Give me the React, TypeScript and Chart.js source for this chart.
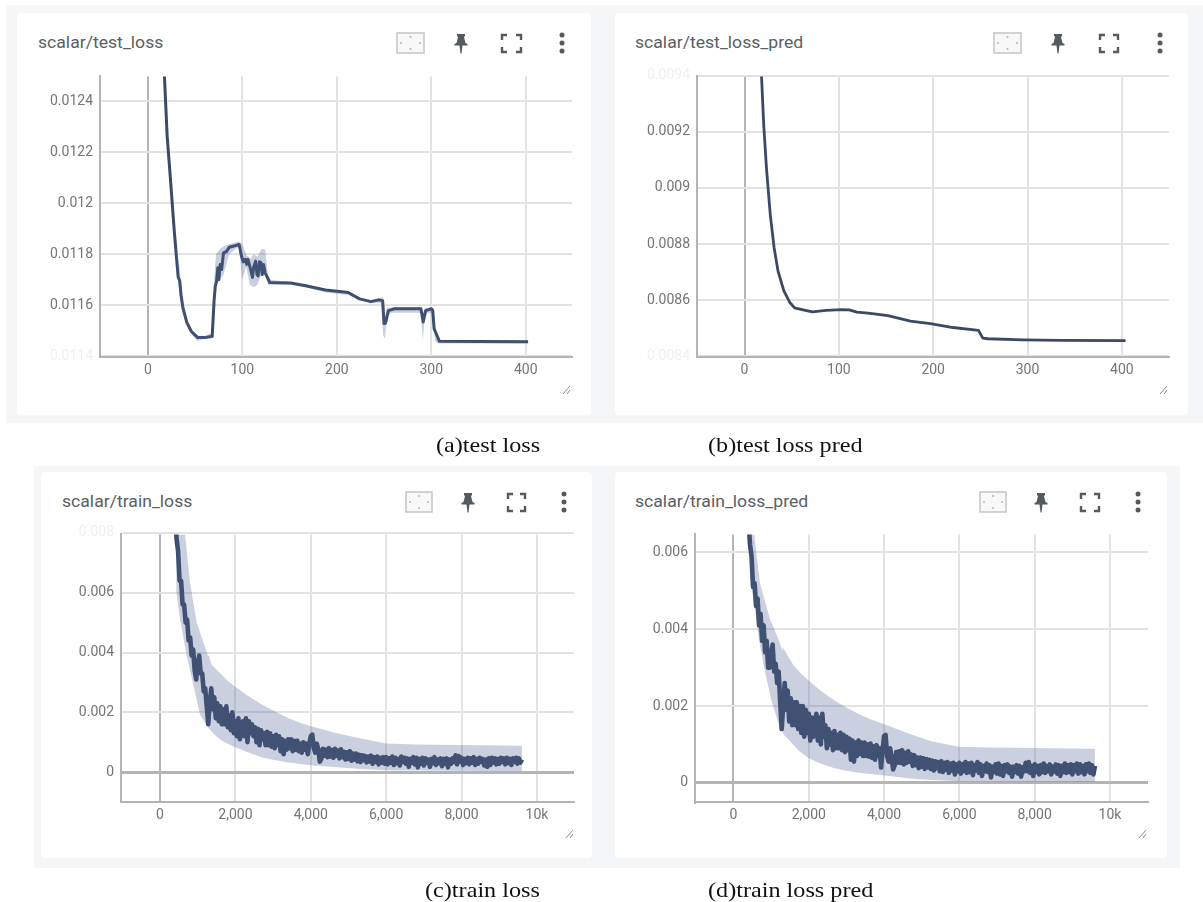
import React, { useEffect, useRef } from "react";
import { Chart, registerables } from "chart.js";

Chart.register(...registerables);

const LINE_COLOR = "#3a4a66";
const BAND_COLOR = "rgba(80,100,150,0.3)";
const GRID = "#e2e2e2";
const AXIS = "#b4b4b4";
const TICK_TEXT = "#757575";
const FAINT = "#f0f0f0";

// (a) test loss
const testLossSteps = [15, 17.4, 20.3, 23.5, 27.6, 30.8, 32, 33.6, 35, 36.9, 41, 45.8, 52.7, 60, 68, 70, 71.3, 72.5, 74, 75, 76.5, 78, 80, 83, 86, 92, 96.5, 99, 101, 103, 104.6, 106, 108, 110.7, 112, 114, 115.5, 116.7, 118, 119.6, 121, 122.5, 124, 129, 151, 167, 188, 212, 224, 236, 244.4, 248.5, 250, 251.5, 254.6, 261, 289, 291.4, 294, 300, 301.5, 303, 305, 308.5, 350, 402.5];
const testLossValues = [0.0129, 0.0125, 0.012264, 0.012109, 0.011902, 0.01176, 0.01171, 0.011696, 0.01164, 0.011592, 0.011534, 0.011498, 0.011473, 0.011473, 0.011478, 0.011618, 0.011676, 0.01169, 0.011747, 0.0117, 0.01176, 0.01174, 0.011805, 0.01181, 0.011827, 0.011833, 0.011838, 0.011793, 0.01177, 0.01178, 0.01176, 0.01178, 0.01175, 0.011709, 0.01175, 0.011773, 0.01172, 0.011715, 0.01177, 0.011767, 0.01172, 0.01176, 0.011728, 0.011689, 0.011687, 0.011676, 0.01166, 0.01165, 0.011625, 0.011614, 0.011621, 0.011618, 0.011528, 0.01153, 0.011579, 0.011586, 0.011586, 0.011534, 0.011579, 0.011586, 0.01158, 0.011508, 0.01149, 0.011459, 0.011458, 0.011457];
const testBandSteps = [17, 24, 30, 33, 36, 40, 45, 52, 60, 68, 70, 72, 76, 80, 86, 96, 100, 104, 108, 112, 116, 120, 124, 127, 130, 151, 167, 188, 212, 224, 236, 247, 249, 251, 253, 257, 289, 291, 293, 296, 301, 304, 307, 310, 400];
const testBandUpper = [0.0125, 0.01212, 0.01182, 0.01176, 0.01165, 0.01156, 0.01151, 0.01148, 0.01148, 0.01149, 0.0117, 0.0118, 0.01182, 0.01183, 0.01184, 0.01185, 0.01184, 0.0118, 0.01178, 0.0118, 0.01179, 0.01182, 0.01182, 0.01172, 0.0117, 0.01169, 0.01168, 0.01166, 0.01165, 0.01163, 0.01162, 0.01163, 0.01163, 0.01155, 0.01159, 0.01159, 0.01159, 0.01156, 0.01159, 0.01159, 0.01159, 0.01152, 0.01147, 0.01146, 0.01146];
const testBandLower = [0.01249, 0.0121, 0.01178, 0.01166, 0.01158, 0.01153, 0.01149, 0.01146, 0.01147, 0.01147, 0.0116, 0.01168, 0.0117, 0.01172, 0.0118, 0.01183, 0.0117, 0.01175, 0.01168, 0.01167, 0.01168, 0.01172, 0.01172, 0.01168, 0.01168, 0.01168, 0.01167, 0.01165, 0.01164, 0.01162, 0.01161, 0.01161, 0.01148, 0.01147, 0.01155, 0.01157, 0.01157, 0.01146, 0.01155, 0.01157, 0.01157, 0.01146, 0.01145, 0.01145, 0.01145];
const testLossTicks = [0.0114, 0.0116, 0.0118, 0.012, 0.0122, 0.0124];

// (b) test loss pred
const testPredSteps = [15, 18, 20.4, 23.3, 27.3, 31.4, 35.5, 41.6, 47.8, 53, 62, 72, 86.5, 103, 111, 119, 131, 152, 176, 197, 221, 248, 252.6, 258, 295, 335.5, 404];
const testPredValues = [0.0097, 0.009398, 0.00922, 0.009068, 0.008904, 0.008786, 0.008704, 0.008634, 0.008593, 0.008573, 0.008566, 0.008559, 0.008564, 0.008567, 0.008566, 0.008558, 0.008554, 0.008545, 0.008526, 0.008517, 0.008503, 0.008493, 0.008465, 0.008463, 0.008459, 0.008457, 0.008456];
const testPredTicks = [0.0084, 0.0086, 0.0088, 0.009, 0.0092, 0.0094];

const testXTicks = [0, 100, 200, 300, 400];
const trainXTicks = [0, 2000, 4000, 6000, 8000, 10000];

// shared step axis of the two train runs (one row per 800 steps)
const trainSteps = [
  400, 440, 480, 520, 560, 600, 640, 680, 720, 760, 800, 840, 880, 920, 960, 1000, 1040, 1080, 1120, 1160,
  1200, 1240, 1280, 1320, 1360, 1400, 1440, 1480, 1520, 1560, 1600, 1640, 1680, 1720, 1760, 1800, 1840, 1880, 1920, 1960,
  2000, 2040, 2080, 2120, 2160, 2200, 2240, 2280, 2320, 2360, 2400, 2440, 2480, 2520, 2560, 2600, 2640, 2680, 2720, 2760,
  2800, 2840, 2880, 2920, 2960, 3000, 3040, 3080, 3120, 3160, 3200, 3240, 3280, 3320, 3360, 3400, 3440, 3480, 3520, 3560,
  3600, 3640, 3680, 3720, 3760, 3800, 3840, 3880, 3920, 3960, 4000, 4040, 4080, 4120, 4160, 4200, 4240, 4280, 4320, 4360,
  4400, 4440, 4480, 4520, 4560, 4600, 4640, 4680, 4720, 4760, 4800, 4840, 4880, 4920, 4960, 5000, 5040, 5080, 5120, 5160,
  5200, 5240, 5280, 5320, 5360, 5400, 5440, 5480, 5520, 5560, 5600, 5640, 5680, 5720, 5760, 5800, 5840, 5880, 5920, 5960,
  6000, 6040, 6080, 6120, 6160, 6200, 6240, 6280, 6320, 6360, 6400, 6440, 6480, 6520, 6560, 6600, 6640, 6680, 6720, 6760,
  6800, 6840, 6880, 6920, 6960, 7000, 7040, 7080, 7120, 7160, 7200, 7240, 7280, 7320, 7360, 7400, 7440, 7480, 7520, 7560,
  7600, 7640, 7680, 7720, 7760, 7800, 7840, 7880, 7920, 7960, 8000, 8040, 8080, 8120, 8160, 8200, 8240, 8280, 8320, 8360,
  8400, 8440, 8480, 8520, 8560, 8600, 8640, 8680, 8720, 8760, 8800, 8840, 8880, 8920, 8960, 9000, 9040, 9080, 9120, 9160,
  9200, 9240, 9280, 9320, 9360, 9400, 9440, 9480, 9520, 9560, 9600,
];

// (c) train loss
const trainLossValues = [
  .0089, .0078, .0074, .0064, .0064, .0056, .0056, .005, .0051, .0044, .0045, .0039, .0041, .0034, .0031, .0036, .0039, .0033, .0033, .0027,
  .0028, .0022, .0016, .0023, .0028, .0021, .0025, .0018, .0023, .0017, .0022, .0016, .0021, .0016, .0022, .0015, .0019, .0014, .002, .0013,
  .0017, .0012, .0018, .0011, .0015, .0017, .0012, .0018, .001, .0017, .0013, .0016, .0012, .0015, .001, .00145, .0009, .0014, .0011, .0013,
  .0009, .00135, .0009, .0013, .00085, .0012, .0008, .00125, .0009, .0012, .0007, .0011, .0006, .00105, .00075, .0011, .0008, .0011, .0007, .00105,
  .00075, .00105, .0007, .00095, .00065, .001, .00075, .00095, .0006, .00095, .0012, .00125, .0008, .00065, .00095, .00075, .00035, .00045, .00078, .00055,
  .00075, .0005, .0008, .00052, .00074, .00048, .00078, .00055, .00072, .00046, .00076, .0005, .00068, .00042, .00066, .00044, .0007, .00038, .00062, .00042,
  .00062, .00036, .00058, .00034, .00056, .0004, .00054, .00032, .00052, .00036, .00055, .00028, .0005, .00034, .00052, .00026, .00048, .00032, .0005, .00028,
  .0005, .00026, .00046, .00032, .00052, .00024, .00048, .0003, .00044, .00022, .00052, .00034, .00048, .00028, .00046, .00018, .00044, .00032, .0005, .00026,
  .00048, .00016, .00044, .00028, .00048, .00022, .00046, .00032, .00042, .00018, .00044, .0003, .0005, .00024, .00042, .0003, .00046, .0002, .00044, .00028,
  .00046, .00016, .00042, .00028, .00046, .00034, .00056, .00026, .00054, .00036, .00048, .00024, .00044, .0003, .00048, .00026, .00046, .00032, .0005, .00024,
  .00044, .00028, .00048, .00034, .00044, .00022, .00042, .00018, .00046, .00024, .00048, .00032, .00046, .00026, .00044, .00028, .00048, .00034, .00046, .00026,
  .00048, .0003, .00044, .00024, .00046, .00034, .00048, .00028, .00046, .00032, .00042,
];
const trainLossUpperSteps = [430, 663, 796, 973, 1270, 1300, 1370, 1636, 1800, 1989, 2300, 2697, 3000, 3400, 3700, 3979, 4300, 4642, 5300, 6000, 6800, 9600];
const trainLossUpper = [0.0095, 0.00798, 0.00633, 0.005, 0.0039, 0.0039, 0.00359, 0.00326, 0.00305, 0.00286, 0.00258, 0.00226, 0.00206, 0.00181, 0.00166, 0.00154, 0.00143, 0.00132, 0.00113, 0.00096, 0.00092, 0.00088];
const trainLossLowerSteps = [300, 327, 353, 530, 708, 884, 1061, 1280, 1450, 1636, 1989, 2300, 2697, 3000, 3400, 4000, 4642, 5300, 6000, 9600];
const trainLossLower = [0.0095, 0.00798, 0.00677, 0.00512, 0.0039, 0.00292, 0.00193, 0.00148, 0.00125, 0.00105, 0.00083, 0.00068, 0.0005, 0.00041, 0.00032, 0.00023, 0.00017, 0.0001, 0.00006, 0.00003];
const trainLossTicks = [-0.001, 0, 0.002, 0.004, 0.006, 0.008];

// (d) train loss pred
const trainPredValues = [
  .0068, .0062, .0059, .0051, .0052, .0046, .0048, .0041, .0044, .0037, .0041, .0034, .0037, .003, .003, .0034, .0036, .0029, .0031, .0026,
  .0029, .0021, .0014, .002, .0026, .0019, .0024, .0016, .0022, .0015, .0021, .0015, .0021, .0014, .002, .0013, .002, .0012, .0019, .0013,
  .0018, .0011, .0017, .0012, .0015, .0018, .0011, .0017, .001, .0018, .0012, .0015, .0009, .0014, .001, .0013, .00085, .00135, .0009, .00125,
  .0009, .0013, .00085, .00125, .0008, .0012, .00085, .00115, .0006, .0011, .00055, .00105, .0007, .0011, .00075, .00105, .0007, .00105, .0007, .001,
  .00068, .00102, .00065, .00095, .0006, .00098, .0007, .0009, .0004, .00085, .00122, .00125, .0007, .00055, .0009, .00065, .00035, .00045, .0008, .00052,
  .00082, .00052, .00085, .00048, .00078, .00052, .00082, .00055, .00074, .00044, .00072, .00046, .00066, .00038, .00066, .00042, .00064, .00036, .00062, .0004,
  .0006, .00036, .00058, .00032, .00056, .00038, .00054, .0003, .00056, .00028, .00052, .00034, .00054, .00026, .0005, .00032, .00052, .00022, .00048, .0003,
  .00052, .00024, .00048, .0003, .00054, .00026, .0005, .00028, .00052, .0002, .00046, .00032, .00054, .00026, .00048, .00018, .00044, .0003, .0005, .00028,
  .00046, .00014, .00042, .00028, .00048, .00024, .0005, .00022, .00044, .00018, .00046, .0003, .00048, .00026, .00042, .00016, .00042, .00028, .00046, .00024,
  .00044, .00016, .0004, .0003, .00052, .0003, .00054, .00026, .00044, .00018, .00048, .00028, .00044, .00022, .00046, .00028, .0005, .00026, .00044, .0003,
  .00048, .00022, .00042, .0003, .00048, .00024, .00046, .00018, .00044, .00028, .0005, .00026, .00046, .00028, .00048, .00022, .00046, .0003, .0005, .00024,
  .00048, .00028, .00044, .00022, .00048, .0003, .0005, .00026, .00046, .00022, .00044,
];
const trainPredUpperSteps = [430, 545, 704, 970, 1150, 1300, 1310, 1589, 1780, 1979, 2300, 2643, 2950, 3272, 3650, 4024, 4688, 5300, 6000, 6800, 9600];
const trainPredUpper = [0.0075, 0.0065, 0.0052, 0.00426, 0.00385, 0.00345, 0.00353, 0.00307, 0.00286, 0.00268, 0.00241, 0.00217, 0.00199, 0.00182, 0.00165, 0.00152, 0.00127, 0.00107, 0.00094, 0.00092, 0.00089];
const trainPredLowerSteps = [330, 360, 438, 571, 704, 837, 1014, 1235, 1350, 1500, 1720, 1979, 2300, 2643, 2950, 3272, 4024, 4688, 5300, 6000, 9600];
const trainPredLower = [0.0075, 0.0064, 0.00538, 0.00451, 0.00358, 0.00289, 0.00212, 0.00142, 0.00124, 0.00109, 0.00085, 0.00065, 0.0005, 0.00039, 0.00032, 0.00027, 0.00019, 0.00011, 0.00007, 0.00004, 0.00003];
const trainPredTicks = [0, 0.002, 0.004, 0.006];

const zip = (xs: number[], ys: number[]) => xs.map((x, i) => ({ x, y: ys[i] }));

type PanelSpec = {
  title: string;
  card: [number, number, number, number];
  plot: [number, number, number, number];
  titleX: number;
  headY: number;
  box: [number, number];
  pinX: number;
  fullX: [number, number];
  dotsX: number;
  gripX: number;
  gripY: number;
  xRange: [number, number];
  yRange: [number, number];
  xTicks: number[];
  yTicks: number[];
  faint: number[];
  line: { x: number; y: number }[];
  upper?: { x: number; y: number }[];
  lower?: { x: number; y: number }[];
  lineWidth: number;
  kFormat: boolean;
};

const panels: PanelSpec[] = [
  {
    title: "scalar/test_loss",
    card: [17, 13, 574, 402],
    plot: [100, 73, 572, 357],
    titleX: 38,
    headY: 43,
    box: [397, 424],
    pinX: 461,
    fullX: [502, 521],
    dotsX: 562,
    gripX: 567,
    gripY: 390,
    xRange: [-50.8, 449],
    yRange: [0.011397, 0.012497],
    xTicks: testXTicks,
    yTicks: testLossTicks,
    faint: [0.0114],
    line: zip(testLossSteps, testLossValues),
    upper: zip(testBandSteps, testBandUpper),
    lower: zip(testBandSteps, testBandLower),
    lineWidth: 3,
    kFormat: false,
  },
  {
    title: "scalar/test_loss_pred",
    card: [615, 13, 573, 402],
    plot: [697, 73, 1169, 357],
    titleX: 635,
    headY: 43,
    box: [994, 1021],
    pinX: 1058,
    fullX: [1100, 1118],
    dotsX: 1160,
    gripX: 1164,
    gripY: 390,
    xRange: [-50.4, 450],
    yRange: [0.008398, 0.009397],
    xTicks: testXTicks,
    yTicks: testPredTicks,
    faint: [0.0084, 0.0094],
    line: zip(testPredSteps, testPredValues),
    lineWidth: 2.8,
    kFormat: false,
  },
  {
    title: "scalar/train_loss",
    card: [41, 472, 551, 386],
    plot: [121, 531, 574, 802],
    titleX: 62,
    headY: 502,
    box: [406, 432],
    pinX: 468,
    fullX: [508, 525],
    dotsX: 564,
    gripX: 570,
    gripY: 834,
    xRange: [-1034, 10981],
    yRange: [-0.001, 0.00795],
    xTicks: trainXTicks,
    yTicks: trainLossTicks,
    faint: [0.008],
    line: zip(trainSteps, trainLossValues),
    upper: zip(trainLossUpperSteps, trainLossUpper),
    lower: zip(trainLossLowerSteps, trainLossLower),
    lineWidth: 4.6,
    kFormat: true,
  },
  {
    title: "scalar/train_loss_pred",
    card: [615, 472, 552, 386],
    plot: [695, 531, 1148, 802],
    titleX: 635,
    headY: 502,
    box: [980, 1006],
    pinX: 1041,
    fullX: [1081, 1099],
    dotsX: 1138,
    gripX: 1143,
    gripY: 834,
    xRange: [-1022, 11009],
    yRange: [-0.0005, 0.00647],
    xTicks: trainXTicks,
    yTicks: trainPredTicks,
    faint: [],
    line: zip(trainSteps, trainPredValues),
    upper: zip(trainPredUpperSteps, trainPredUpper),
    lower: zip(trainPredLowerSteps, trainPredLower),
    lineWidth: 4.6,
    kFormat: true,
  },
];

const captions: { text: string; x: number; y: number }[] = [
  { text: "(a)test loss", x: 436, y: 432 },
  { text: "(b)test loss pred", x: 708, y: 432 },
  { text: "(c)train loss", x: 425, y: 877 },
  { text: "(d)train loss pred", x: 708, y: 877 },
];

const formatX = (v: number, k: boolean) => {
  if (!k) return String(v);
  if (v >= 10000) return v / 1000 + "k";
  return v.toLocaleString("en-US");
};

function PanelChart({ p }: { p: PanelSpec }) {
  const ref = useRef<HTMLCanvasElement>(null);
  const [cl, , cw] = p.card;
  const [pl, pt, pr, pb] = p.plot;
  const spareTop = 12;
  const xAxisH = 30;
  const yAxisW = 60;
  useEffect(() => {
    const near = (a: number, b: number) => Math.abs(a - b) < 1e-9;
    const datasets: any[] = [];
    if (p.upper && p.lower) {
      datasets.push({
        data: p.upper,
        borderWidth: 0,
        borderColor: "transparent",
        pointRadius: 0,
        fill: "+1",
        backgroundColor: BAND_COLOR,
      });
      datasets.push({
        data: p.lower,
        borderWidth: 0,
        borderColor: "transparent",
        pointRadius: 0,
        fill: false,
      });
    }
    datasets.push({
      data: p.line,
      borderColor: LINE_COLOR,
      borderWidth: p.lineWidth,
      pointRadius: 0,
      fill: false,
      tension: 0,
      borderJoinStyle: "round",
    });
    const font = { family: "Roboto", size: 14 };
    const chart = new Chart(ref.current!, {
      type: "line",
      data: { datasets },
      options: {
        animation: false,
        responsive: false,
        parsing: false,
        normalized: true,
        plugins: { legend: { display: false }, tooltip: { enabled: false }, title: { display: false } },
        layout: {
          autoPadding: false,
          padding: { left: pl - cl - yAxisW, top: spareTop, right: cl + cw - pr, bottom: 0 },
        },
        scales: {
          x: {
            type: "linear",
            min: p.xRange[0],
            max: p.xRange[1],
            afterBuildTicks: (s: any) => {
              s.ticks = p.xTicks.map((value) => ({ value }));
            },
            afterFit: (s: any) => {
              s.height = xAxisH;
            },
            ticks: {
              color: TICK_TEXT,
              font,
              padding: 5,
              maxRotation: 0,
              autoSkip: false,
              callback: (v: any) => formatX(Number(v), p.kFormat),
            },
            grid: {
              drawTicks: false,
              color: (c: any) => (c.tick && c.tick.value === 0 ? AXIS : GRID),
              lineWidth: 2,
            },
            border: { color: AXIS, width: 2 },
          },
          y: {
            type: "linear",
            min: p.yRange[0],
            max: p.yRange[1],
            afterBuildTicks: (s: any) => {
              s.ticks = p.yTicks.map((value) => ({ value }));
            },
            afterFit: (s: any) => {
              s.width = yAxisW;
            },
            ticks: {
              font,
              padding: 7,
              autoSkip: false,
              color: (c: any) => (p.faint.some((f) => near(f, c.tick.value)) ? FAINT : TICK_TEXT),
              callback: (v: any) => {
                const n = Number(v);
                return near(n, -0.001) ? "" : String(Number(n.toFixed(4)));
              },
            },
            grid: {
              drawTicks: false,
              color: (c: any) => (c.tick && near(c.tick.value, 0) ? AXIS : GRID),
              lineWidth: (c: any) => (c.tick && near(c.tick.value, 0) ? 3 : 2),
            },
            border: { color: AXIS, width: 2 },
          },
        },
      } as any,
    });
    return () => chart.destroy();
  }, []);
  return (
    <canvas
      ref={ref}
      width={cw}
      height={pb - pt + spareTop + xAxisH}
      style={{ position: "absolute", left: cl, top: pt - spareTop, display: "block" }}
    />
  );
}

const dark = "#555a5e";

function Icons({ p }: { p: PanelSpec }) {
  const y = p.headY;
  const [f1, f2] = p.fullX;
  const [b1, b2] = p.box;
  return (
    <svg
      width={1203}
      height={902}
      style={{ position: "absolute", left: 0, top: 0, pointerEvents: "none" }}
    >
      <rect x={b1} y={y - 10} width={b2 - b1} height={20} fill="#f8f8f8" stroke="#c8c8c8" strokeWidth={1.6} />
      <circle cx={(b1 + b2) / 2} cy={y - 6} r={1.1} fill="#bbb" />
      <circle cx={(b1 + b2) / 2} cy={y + 6} r={1.1} fill="#bbb" />
      <circle cx={b1 + 4} cy={y} r={1.1} fill="#bbb" />
      <circle cx={b2 - 4} cy={y} r={1.1} fill="#bbb" />
      <path
        d={`M${p.pinX - 4} ${y - 9} h8 v2 l-1 1 l1.5 6 l2 1 v1.5 h-5 l-1 8 h-1 l-1 -8 h-5 v-1.5 l2 -1 l1.5 -6 l-1 -1 z`}
        fill={dark}
      />
      <path
        d={`M${f1} ${y - 3} v-5 h5 M${f2 - 5} ${y - 8} h5 v5 M${f2} ${y + 4} v5 h-5 M${f1 + 5} ${y + 9} h-5 v-5`}
        fill="none"
        stroke={dark}
        strokeWidth={2.4}
      />
      <circle cx={p.dotsX} cy={y - 8} r={2.5} fill={dark} />
      <circle cx={p.dotsX} cy={y} r={2.5} fill={dark} />
      <circle cx={p.dotsX} cy={y + 8} r={2.5} fill={dark} />
      <path
        d={`M${p.gripX - 4} ${p.gripY + 4} L${p.gripX + 3} ${p.gripY - 4} M${p.gripX} ${p.gripY + 4} L${p.gripX + 3} ${p.gripY}`}
        stroke="#8a8a8a"
        strokeWidth={1}
        fill="none"
      />
    </svg>
  );
}

export default function App() {
  return (
    <div style={{ position: "fixed", left: 0, top: 0, width: 1203, height: 902, background: "#fff", overflow: "hidden" }}>
      <div style={{ position: "absolute", left: 6, top: 5, width: 1197, height: 418, background: "#f4f6f7" }} />
      <div style={{ position: "absolute", left: 34, top: 466, width: 1146, height: 402, background: "#f4f6f7" }} />
      <div style={{ position: "absolute", left: 0, top: 0, width: 1203, height: 902, filter: "blur(0.7px)" }}>
        {panels.map((p) => (
          <React.Fragment key={p.title}>
            <div
              style={{
                position: "absolute",
                left: p.card[0],
                top: p.card[1],
                width: p.card[2],
                height: p.card[3],
                background: "#fff",
                borderRadius: 4,
              }}
            />
            <div
              style={{
                position: "absolute",
                left: p.titleX,
                top: p.headY - 12,
                height: 24,
                lineHeight: "24px",
                fontFamily: "Roboto",
                fontSize: 16,
                color: "#5a5f63",
                whiteSpace: "nowrap",
                transform: "scaleX(1.1)",
                transformOrigin: "left center",
              }}
            >
              {p.title}
            </div>
            <PanelChart p={p} />
            <Icons p={p} />
          </React.Fragment>
        ))}
      </div>
      {captions.map((c) => (
        <div
          key={c.text}
          style={{
            position: "absolute",
            left: c.x,
            top: c.y,
            height: 26,
            lineHeight: "26px",
            fontFamily: "'Liberation Serif'",
            fontSize: 22,
            color: "#111",
            whiteSpace: "nowrap",
            transform: "scaleX(1.1)",
            transformOrigin: "left center",
          }}
        >
          {c.text}
        </div>
      ))}
    </div>
  );
}
